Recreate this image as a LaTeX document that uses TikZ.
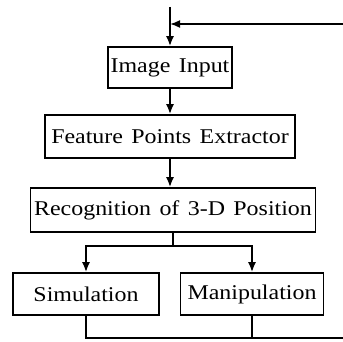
\documentclass[tikz,border=0pt]{standalone}
\usepackage{fontspec}
\setmainfont[FakeStretch=1.14,WordSpace=1.4]{Liberation Serif}
\usetikzlibrary{arrows.meta}
\begin{document}
\begin{tikzpicture}[x=0.5pt,y=-0.5pt,
  line width=0.85pt,>={Latex[length=5pt,width=4pt]},
  block/.style={rectangle,draw,inner sep=0pt,font=\fontsize{10.5}{12}\selectfont}]

  \useasboundingbox (0,0) rectangle (343,342);

  \node[block,minimum width=62pt,minimum height=20.5pt] (input) at (170,67.5) {Image Input};
  \node[block,minimum width=125pt,minimum height=21.5pt] (feature) at (170,136.5) {Feature Points Extractor};
  \node[block,minimum width=142.5pt,minimum height=22pt] (recog) at (173,210) {Recognition of 3-D Position};
  \node[block,minimum width=73pt,minimum height=21pt] (sim) at (86,294) {Simulation};
  \node[block,minimum width=71.5pt,minimum height=21pt] (manip) at (252,294) {Manipulation};

  \coordinate (top) at (170,7);
  \coordinate (fbin) at (343,24);
  \coordinate (split) at (173,246);
  \coordinate (fbout) at (343,338);

  % main chain
  \draw[->] (top) -- (input);
  \draw[->] (input) -- (feature);
  \draw[->] (feature.south) -- (feature.south |- recog.north);
  \draw (recog.south) -- (split);
  \draw[->] (split) -| (sim);
  \draw[->] (split) -| (manip);

  % feedback
  \draw[->] (fbin) -- (top |- fbin);
  \draw (sim) |- (fbout);
  \draw (manip) -- (manip |- fbout);
\end{tikzpicture}
\end{document}
